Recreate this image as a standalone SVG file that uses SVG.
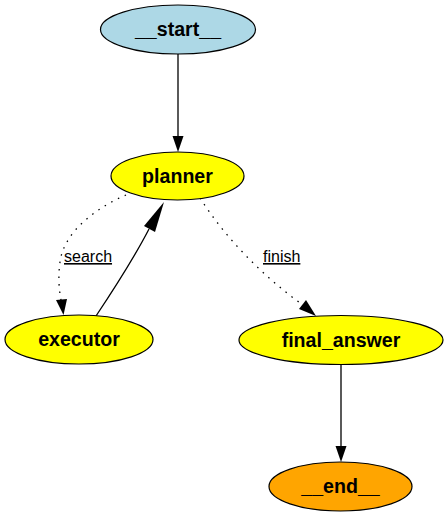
<svg xmlns="http://www.w3.org/2000/svg" width="447" height="516" viewBox="0 0 447 516">
<style>
.node ellipse{stroke:#000;stroke-width:1.2}
.node text{font-family:"Liberation Sans",Arial,sans-serif;font-weight:bold;font-size:19.6px;text-anchor:middle;fill:#000}
.edge{fill:none;stroke:#000;stroke-width:1.3}
.dot{stroke-dasharray:1.5,6}
.lbl{font-family:"Liberation Sans",Arial,sans-serif;font-size:16px;fill:#000;text-decoration:underline}
</style>
<rect width="447" height="516" fill="#fff"/>
<g id="edges">
<path class="edge" d="M178,54 L178,136"/>
<polygon points="172.5,136 183.5,136 178,152" fill="#000"/>
<path class="edge dot" d="M126,195 C100,206 64,230 60,262 C58,276 59,290 61,300"/>
<polygon points="56,300 67,299 63.5,315" fill="#000"/>
<text class="lbl" x="64" y="262">search</text>
<path class="edge" d="M96,316 C112,292 134,258 149,229"/>
<polygon points="144,226 155,232 164,202" fill="#000"/>
<path class="edge dot" d="M200,198 C224,236 262,276 303,305"/>
<polygon points="299,309 306,300 316,316" fill="#000"/>
<text class="lbl" x="263" y="262">finish</text>
<path class="edge" d="M341,364 L341,446"/>
<polygon points="335.5,446 346.5,446 341,462" fill="#000"/>
</g>
<g id="start" class="node"><ellipse cx="178" cy="29.5" rx="77.5" ry="24.5" fill="#add8e6"/><text x="178" y="36">__start__</text></g>
<g id="planner" class="node"><ellipse cx="177.5" cy="176" rx="66.5" ry="24" fill="#ffff00"/><text x="177.5" y="182.5">planner</text></g>
<g id="executor" class="node"><ellipse cx="79" cy="339.5" rx="74" ry="24.5" fill="#ffff00"/><text x="79" y="346">executor</text></g>
<g id="final_answer" class="node"><ellipse cx="341" cy="340" rx="102" ry="24.5" fill="#ffff00"/><text x="341" y="346.5">final_answer</text></g>
<g id="end" class="node"><ellipse cx="340.5" cy="486.5" rx="71.5" ry="24.5" fill="#ffa500"/><text x="340.5" y="493">__end__</text></g>
</svg>
